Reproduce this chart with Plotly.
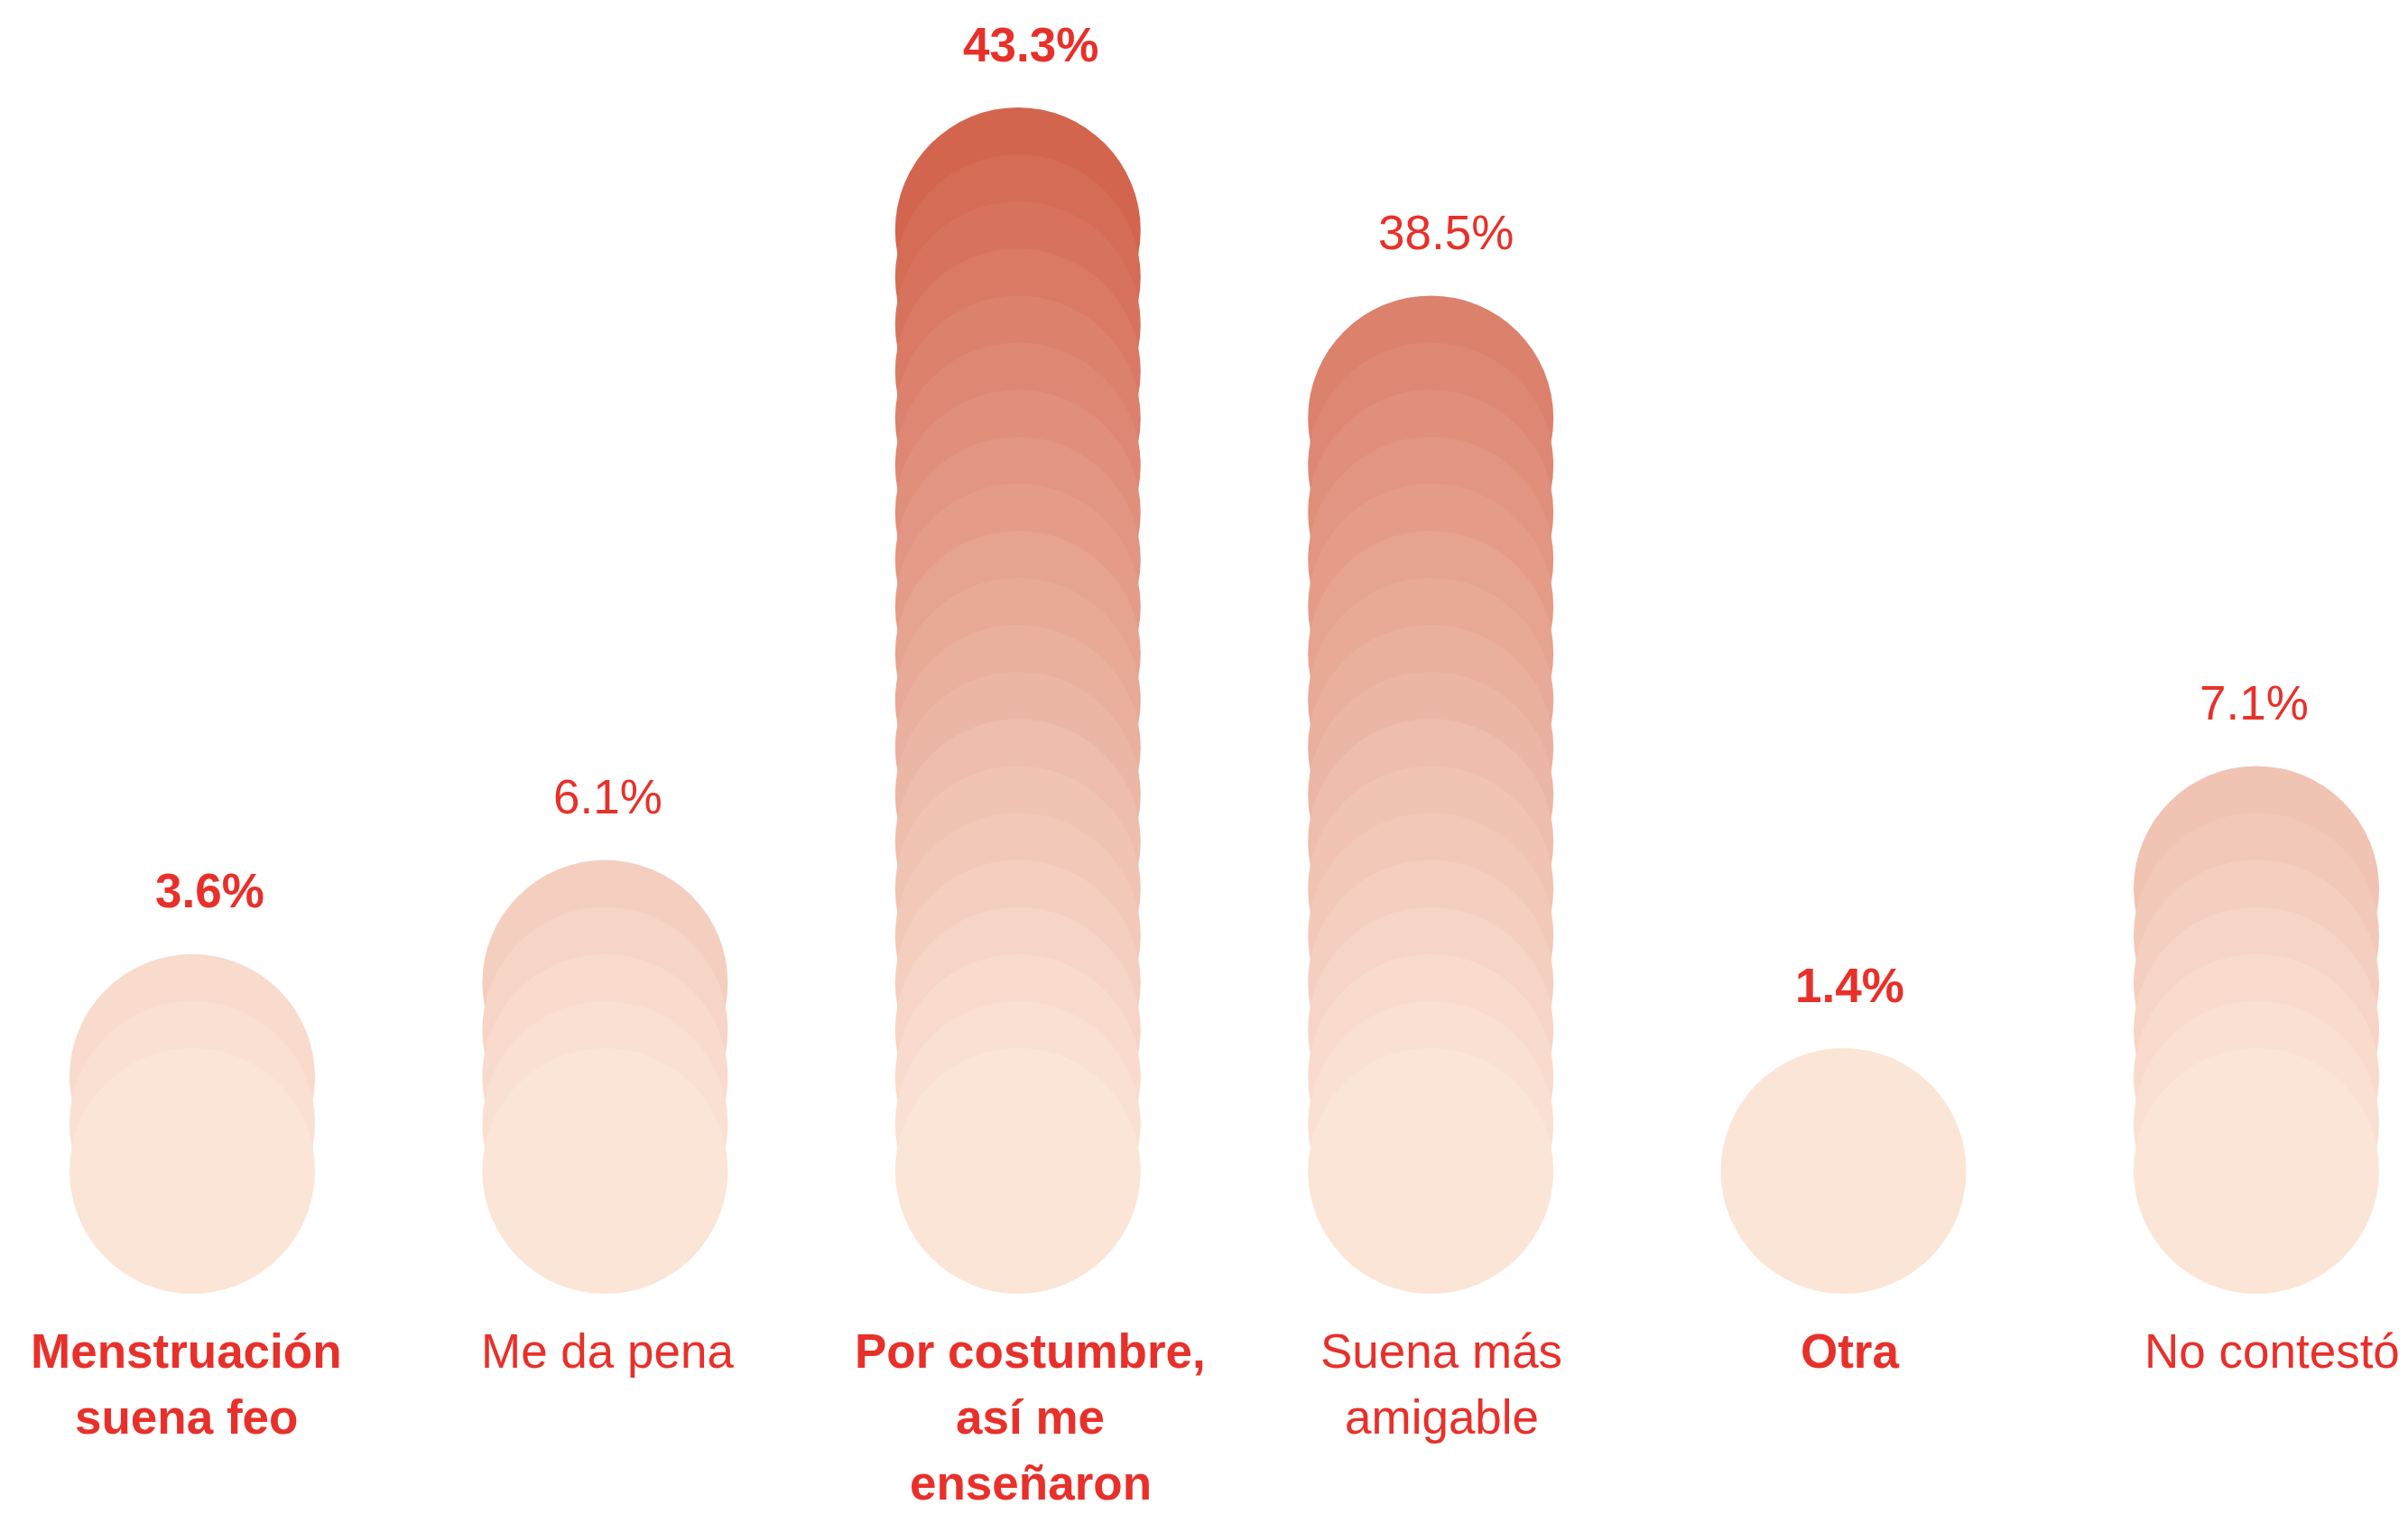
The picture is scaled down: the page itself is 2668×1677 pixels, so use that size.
import plotly.graph_objects as go

# Survey answers, share of respondents, and how many discs each column stacks
categories = [
    "Menstruación<br>suena feo",
    "Me da pena",
    "Por costumbre,<br>así me<br>enseñaron",
    "Suena más<br>amigable",
    "Otra",
    "No contestó",
]
values = [3.6, 6.1, 43.3, 38.5, 1.4, 7.1]
circle_counts = [3, 5, 21, 17, 1, 7]
bold_labels = [True, False, True, False, True, False]

# Styling
W, H = 2668, 1677
STEP_PX = 52.1          # vertical offset between stacked discs (px)
DISC_PX = 272           # disc diameter (px)
BASE_PX = 1297          # pixel row of the lowest disc centre
X0_PX, DX_PX = 213, 457.4
TEXT_RED = "#E8302A"
LIGHT = (251, 229, 215)
DARK = (211, 101, 78)
MAX_LEVEL = 20
FONT = "Liberation Sans, Arial, Helvetica, sans-serif"
FONT_SIZE = 53
VALUE_GAP_PX = 206      # top disc centre -> value label centre
CAT_FIRST_PX = 1496     # centre row of the first category-label line
CAT_LINE_PX = 73        # category label line pitch
# small horizontal nudges for the value and category labels (px)
value_nudge = [19, 3, 14, 17, 7, -3]
cat_nudge = [-7, 3, 14, 12, 7, 17]


def level_color(level):
    t = min(level / MAX_LEVEL, 1.0) ** 1.1
    r, g, b = (round(LIGHT[k] + (DARK[k] - LIGHT[k]) * t) for k in range(3))
    return f"rgb({r},{g},{b})"


def px_to_level(py):
    return (BASE_PX - py) / STEP_PX


# Axis ranges: x in category index units, y in disc-level units
x_range = [-X0_PX / DX_PX, (W - X0_PX) / DX_PX]
y_range = [px_to_level(H), px_to_level(0)]

xs, ys, colors = [], [], []
for i, n in enumerate(circle_counts):
    # upper discs first so each lower disc overlaps the one above it
    for lvl in range(n - 1, -1, -1):
        xs.append(i)
        ys.append(lvl)
        colors.append(level_color(lvl))

fig = go.Figure(
    go.Scatter(
        x=xs,
        y=ys,
        mode="markers",
        marker=dict(size=DISC_PX, color=colors, line=dict(width=0), opacity=1),
        hoverinfo="skip",
        showlegend=False,
    )
)

annotations = []
for i, (cat, v, n, b) in enumerate(zip(categories, values, circle_counts, bold_labels)):
    txt = f"{v:.1f}%"
    annotations.append(dict(
        x=i, y=(n - 1) + VALUE_GAP_PX / STEP_PX, xref="x", yref="y",
        text=f"<b>{txt}</b>" if b else txt,
        showarrow=False, xanchor="center", yanchor="middle", xshift=value_nudge[i],
        font=dict(family=FONT, size=FONT_SIZE, color=TEXT_RED),
    ))
    for k, line in enumerate(cat.split("<br>")):
        annotations.append(dict(
            x=i, y=px_to_level(CAT_FIRST_PX + k * CAT_LINE_PX), xref="x", yref="y",
            text=f"<b>{line}</b>" if b else line,
            showarrow=False, xanchor="center", yanchor="middle", xshift=cat_nudge[i],
            font=dict(family=FONT, size=FONT_SIZE, color=TEXT_RED),
        ))

fig.update_layout(
    width=W, height=H,
    margin=dict(l=0, r=0, t=0, b=0),
    paper_bgcolor="white", plot_bgcolor="white",
    xaxis=dict(range=x_range, visible=False, fixedrange=True),
    yaxis=dict(range=y_range, visible=False, fixedrange=True),
    annotations=annotations,
)

fig.write_html("out.html")
